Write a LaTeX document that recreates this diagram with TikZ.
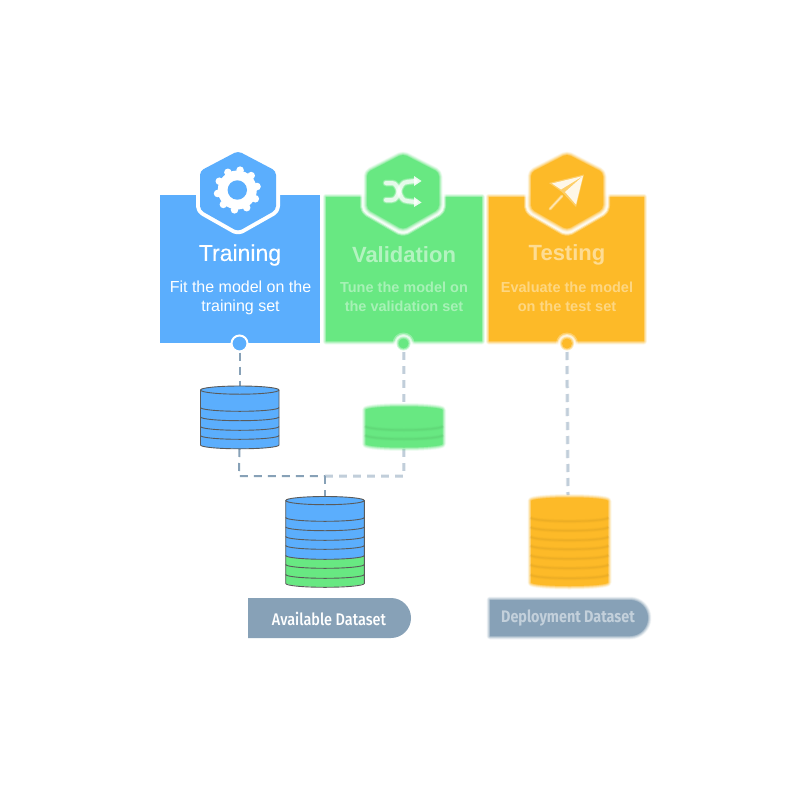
\documentclass[tikz,border=0pt]{standalone}
\usepackage{fontspec}
\setmainfont{Liberation Sans}
\newfontfamily\rob{Liberation Sans}
\newfontfamily\robm[FakeBold=0.35]{Liberation Sans}
\newfontfamily\fira[FakeStretch=0.86]{Fira Sans Medium}
\newfontfamily\firab[FakeStretch=0.86]{Fira Sans}
\definecolor{cblue}{HTML}{5BAEFD}
\definecolor{cgreen}{HTML}{68E882}
\definecolor{corange}{HTML}{FDBA28}
\definecolor{cslate}{HTML}{87A1B7}
\definecolor{cline}{HTML}{5A5A5A}
\tikzset{
  link/.style={draw=cslate,line width=2pt,dash pattern=on 8pt off 6pt},
  softlink/.style={draw=cslate,dash pattern=on 8pt off 6pt},
  title/.style={text=white,font=\robm\fontsize{23}{26}\selectfont,inner sep=0pt,align=center},
  body/.style={text=white,font=\rob\fontsize{16}{19.5}\selectfont,inner sep=0pt,align=center},
  softtitle/.style={text=white,text opacity=.5,font=\rob\bfseries\fontsize{22}{24}\selectfont,inner sep=0pt,align=center},
  softbody/.style={text=white,text opacity=.42,font=\rob\bfseries\fontsize{14.5}{19.5}\selectfont,inner sep=0pt,align=center},
  tag/.style={text=white,font=\fira\fontsize{16.8}{18}\selectfont,inner sep=0pt},
  softtag/.style={text=white,text opacity=.5,font=\firab\bfseries\fontsize{16.7}{18}\selectfont,inner sep=0pt},
  port/.style={circle,inner sep=0pt,minimum size=16pt,fill=#1,draw=white,line width=2pt},
}
% soft edge: stack of translucent outlines
\newcommand{\softshape}[2]{%
  \foreach \wd/\op in {7/.07,6/.09,5/.12,4/.15,3/.2,2/.26,1/.34}{
    \draw[#1,opacity=\op,line width=\wd pt,line join=round] #2;
  }
  \fill[#1] #2;
}
\begin{document}
\begin{tikzpicture}[x=1pt,y=-1pt]
\useasboundingbox (0,0) rectangle (800,800);
\fill[white] (0,0) rectangle (800,800);

% ---------- panels
\fill[cblue] (160,195) rectangle (320,343);
\softshape{cgreen}{(326,197) rectangle (481.5,341)}
\softshape{corange}{(489,197) rectangle (643.5,341)}

% ---------- badges
\draw[white,line width=8pt,line join=round,rounded corners=4pt] (238,151) -- (276,171) -- (276,210) -- (238,231.5) -- (200,210) -- (200,171) -- cycle;
\fill[cblue,rounded corners=4pt] (238,151) -- (276,171) -- (276,210) -- (238,231.5) -- (200,210) -- (200,171) -- cycle;

\foreach \wd/\op in {10/.3,8/.5,6/.8}{
  \draw[white,opacity=\op,line width=\wd pt,line join=round,rounded corners=4pt] (403,152) -- (441,171) -- (441,210) -- (403,232) -- (365,210) -- (365,171) -- cycle;
  \draw[white,opacity=\op,line width=\wd pt,line join=round,rounded corners=4pt] (567,152) -- (605,171) -- (605,210) -- (567,232) -- (529,210) -- (529,171) -- cycle;
}
\softshape{cgreen}{[rounded corners=4pt] (403,154) -- (439,172.5) -- (439,209) -- (403,229.5) -- (367,209) -- (367,172.5) -- cycle}
\softshape{corange}{[rounded corners=4pt] (567,154) -- (603,172.5) -- (603,209) -- (567,229.5) -- (531,209) -- (531,172.5) -- cycle}

% ---------- gear
\fill[white] (237.3,190) circle[radius=19.5pt];
\foreach \a in {0,36,...,324}{
  \fill[white] (237.3,190) ++(\a+10:20pt) circle[radius=3.8pt];
}
\fill[cblue] (237.3,190) circle[radius=9.7pt];

% ---------- shuffle
\begin{scope}[white,line cap=round,line join=round]
  \foreach \wd/\op in {7/.2,5.5/.3,4/.7}{
    \draw[opacity=\op,line width=\wd pt] (386,183) -- (392,183) .. controls (400,183) and (398,201) .. (407,201) -- (415,202);
    \draw[opacity=\op,line width=\wd pt] (386,200) -- (392,200) .. controls (400,200) and (398,182) .. (407,182) -- (415,181);
  }
  \fill[opacity=.85] (414,176) -- (421.5,181) -- (414,186) -- cycle;
  \fill[opacity=.85] (414,197) -- (421.5,202.5) -- (414,207) -- cycle;
\end{scope}

% ---------- paper plane
\begin{scope}[white,line cap=round,line join=round]
  \fill[opacity=.3] (584,174.5) -- (549,183) -- (562,192) -- (576,207) -- cycle;
  \fill[opacity=.85] (583,176) -- (552,183.5) -- (561,189.5) -- cycle;
  \fill[opacity=.85] (583,176) -- (565,192) -- (576,204.5) -- cycle;
  \draw[opacity=.3,line width=3pt] (562,196) -- (550,209);
  \draw[opacity=.5,line width=1.4pt] (562,196) -- (550,209);
\end{scope}

% ---------- texts
\node[title] (ttrain) at (240,255) {Training};
\node[body] (btrain) at (240.5,298) {Fit the model on the\\training set};
\node[softtitle] (tval) at (404,255) {Validation};
\node[softbody] (bval) at (404,297) {Tune the model on\\the validation set};
\node[softtitle] (ttest) at (567,255) {Testing};
\node[softbody] (btest) at (567,297) {Evaluate the model\\on the test set};

% ---------- named points
\coordinate (jl) at (239,476);
\coordinate (jr) at (403.5,476);
\coordinate (jm) at (325,476);

% ---------- ports
\node[port=cblue] (p1) at (239.5,343.5) {};
\foreach \wd/\op in {11/.3,9.5/.5,8.5/.6}{
  \fill[white,opacity=\op] (403.5,343.5) circle[radius=\wd pt];
  \fill[white,opacity=\op] (567,343.5) circle[radius=\wd pt];
}
\foreach \wd/\op in {7/.3,6/.5,5/1}{
  \fill[cgreen,opacity=\op] (403.5,343.5) circle[radius=\wd pt];
  \fill[corange,opacity=\op] (567,343.5) circle[radius=\wd pt];
}
\coordinate (p2) at (403.5,352);
\coordinate (p3) at (567,352);

% ---------- cylinders anchors
\coordinate (c1t) at (239.5,386);
\coordinate (c1b) at (239.5,449);
\coordinate (c2t) at (403.5,405);
\coordinate (c2b) at (403.5,449);
\coordinate (c3t) at (325,496);
\coordinate (c4t) at (568,495);

% ---------- connectors
\draw[link] (p1) -- (c1t);
\draw[link] (c1b) -- (jl) -- (jm);
\draw[link] (jm) -- (c3t);
\foreach \wd/\op in {4/.18,3/.2,2/.25}{
  \draw[softlink,opacity=\op,line width=\wd pt] (p2) -- (c2t);
  \draw[softlink,opacity=\op,line width=\wd pt] (c2b) -- (jr) -- (jm);
  \draw[softlink,opacity=\op,line width=\wd pt] (p3) -- (c4t);
}

% ---------- small blue cylinder
\begin{scope}[line width=.9pt]
  \path[fill=cblue,draw=cline] (200.5,390) -- (200.5,445) arc[start angle=180,end angle=360,x radius=39.25pt,y radius=3.8pt] -- (279,390) arc[start angle=0,end angle=180,x radius=39.25pt,y radius=4pt] -- cycle;
  \draw[cline] (200.5,390) arc[start angle=180,end angle=360,x radius=39.25pt,y radius=4.2pt];
  \foreach \yy in {407.5,416.9,426.5,435.5}{
    \draw[cline] (200.5,\yy) arc[start angle=180,end angle=360,x radius=39.25pt,y radius=3.8pt];
  }
\end{scope}

% ---------- big mixed cylinder
\begin{scope}[line width=.9pt]
  \path[fill=cgreen] (285.7,555) -- (285.7,583) arc[start angle=180,end angle=360,x radius=39.3pt,y radius=4pt] -- (364.3,555) -- cycle;
  \path[fill=cblue] (285.7,500.5) -- (285.7,555.5) arc[start angle=180,end angle=360,x radius=39.3pt,y radius=3.8pt] -- (364.3,500.5) arc[start angle=0,end angle=180,x radius=39.3pt,y radius=4pt] -- cycle;
  \draw[cline] (285.7,500.5) -- (285.7,583.5) arc[start angle=180,end angle=360,x radius=39.3pt,y radius=3.8pt] -- (364.3,500.5) arc[start angle=0,end angle=180,x radius=39.3pt,y radius=4pt] -- cycle;
  \draw[cline] (285.7,500.5) arc[start angle=180,end angle=360,x radius=39.3pt,y radius=4.2pt];
  \foreach \yy in {517.5,526.9,536.5,545.5,555.5,564.5,574.5}{
    \draw[cline] (285.7,\yy) arc[start angle=180,end angle=360,x radius=39.3pt,y radius=3.8pt];
  }
\end{scope}

% ---------- blurred green cylinder
\softshape{cgreen}{(365.5,410) -- (365.5,444) arc[start angle=180,end angle=360,x radius=38.5pt,y radius=3.5pt] -- (442.5,410) arc[start angle=0,end angle=180,x radius=38.5pt,y radius=3.5pt] -- cycle}
\foreach \yy in {426,435}{
  \foreach \wd/\op in {4/.03,2.5/.04,1.2/.05}{
    \draw[black!50!cgreen,opacity=\op,line width=\wd pt] (365,\yy) arc[start angle=180,end angle=360,x radius=39pt,y radius=4pt];
  }
}

% ---------- blurred orange cylinder
\softshape{corange}{(531,501) -- (531,582.5) arc[start angle=180,end angle=360,x radius=38.5pt,y radius=3.5pt] -- (608,501) arc[start angle=0,end angle=180,x radius=38.5pt,y radius=3.5pt] -- cycle}
\foreach \yy in {517.5,526.9,536.5,545.5,555,564.5,574.5}{
  \foreach \wd/\op in {4/.03,2.5/.04,1.2/.05}{
    \draw[black!50!corange,opacity=\op,line width=\wd pt] (530.5,\yy) arc[start angle=180,end angle=360,x radius=39pt,y radius=3.8pt];
  }
}

% ---------- dataset tags
\path[fill=cslate] (248,598) -- (391,598) arc[start angle=90,end angle=-90,radius=20pt] -- (248,638) -- cycle;
\node[tag] (avail) at (329,618.5) {Available Dataset};
\softshape{cslate}{(490,600) -- (630,600) arc[start angle=90,end angle=-90,radius=18pt] -- (490,636) -- cycle}
\node[softtag] (depl) at (568,618.5) {Deployment Dataset};
\end{tikzpicture}
\end{document}
